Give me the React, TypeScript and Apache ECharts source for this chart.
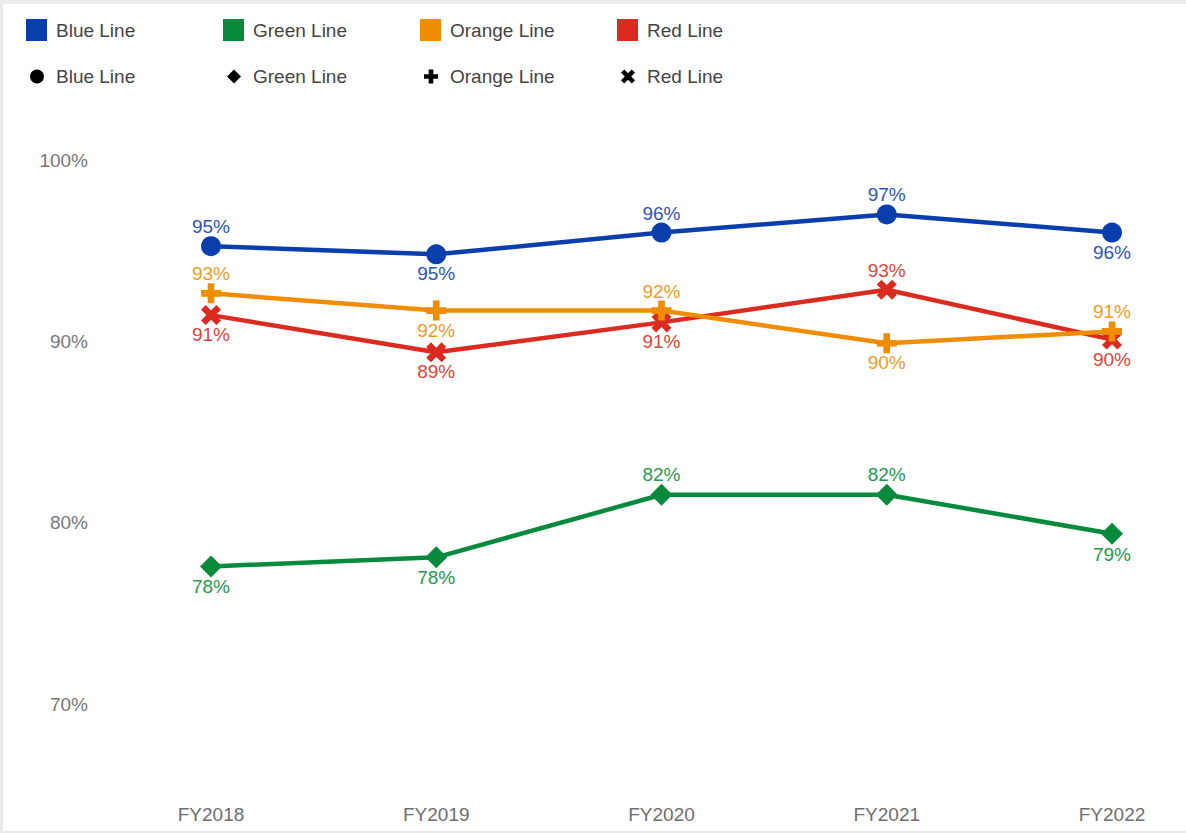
import React, { useEffect, useRef } from "react";
import * as echarts from "echarts";

const categories = ["FY2018", "FY2019", "FY2020", "FY2021", "FY2022"];
const seriesNames = ["Blue Line", "Green Line", "Orange Line", "Red Line"];
const blueValues = [95.25, 94.8, 96.0, 97.0, 96.0];
const greenValues = [77.6, 78.1, 81.55, 81.55, 79.4];
const orangeValues = [92.65, 91.7, 91.7, 89.9, 90.55];
const redValues = [91.45, 89.4, 91.05, 92.85, 90.1];
const blueLabelPos = ["top", "bottom", "top", "top", "bottom"];
const greenLabelPos = ["bottom", "bottom", "top", "top", "bottom"];
const orangeLabelPos = ["top", "bottom", "top", "bottom", "top"];
const redLabelPos = ["bottom", "bottom", "bottom", "top", "bottom"];

const COLORS = ["#0b3ead", "#088a3c", "#f08c00", "#db2a1f"];
const LABEL_COLORS = ["#2c55b8", "#27984f", "#f29a1e", "#df4339"];
const PLUS = "path://M4,0H8V4H12V8H8V12H4V8H0V4H4Z";
const CROSS = "path://M2.8,0L6,3.2L9.2,0L12,2.8L8.8,6L12,9.2L9.2,12L6,8.8L2.8,12L0,9.2L3.2,6L0,2.8Z";
const SYMBOLS = ["circle", "diamond", PLUS, CROSS];
const SYMBOL_SIZES = [20, 22, 20, 20];
const FONT = "'Liberation Sans', Arial, sans-serif";

export default function App() {
  const ref = useRef<HTMLDivElement>(null);
  useEffect(() => {
    if (!ref.current) return;
    const chart = echarts.init(ref.current, undefined, { renderer: "svg" });
    const valueSets = [blueValues, greenValues, orangeValues, redValues];
    const posSets = [blueLabelPos, greenLabelPos, orangeLabelPos, redLabelPos];
    const makeSeries = (i: number) => ({
      name: seriesNames[i],
      type: "line",
      symbol: SYMBOLS[i],
      symbolSize: SYMBOL_SIZES[i],
      showAllSymbol: true,
      color: COLORS[i],
      lineStyle: { color: COLORS[i], width: 4.5 },
      itemStyle: { color: COLORS[i] },
      z: i === 2 ? 5 : 3,
      data: valueSets[i].map((v, j) => ({
        value: v,
        label: { position: posSets[i][j] },
      })),
      label: {
        show: true,
        distance: 0,
        color: LABEL_COLORS[i],
        fontSize: 19,
        fontFamily: FONT,
        formatter: (p: any) => Math.round(p.value) + "%",
      },
    });
    const legends: any[] = [];
    seriesNames.forEach((n, i) => {
      legends.push({
        left: 26 + 197 * i,
        top: 19,
        padding: 0,
        itemWidth: 21,
        itemHeight: 22,
        selectedMode: false,
        data: [{ name: n, icon: "rect" }],
        textStyle: { fontSize: 19, color: "#444", fontFamily: FONT, padding: [0, 0, 0, 4] },
      });
      legends.push({
        left: 30 + 197 * i,
        top: 67,
        padding: 0,
        itemWidth: 14,
        itemHeight: 14,
        selectedMode: false,
        data: [
          {
            name: n,
            icon: SYMBOLS[i],
            itemStyle: { color: "#000", borderWidth: 0 },
          },
        ],
        textStyle: { fontSize: 19, color: "#444", fontFamily: FONT, padding: [0, 0, 0, 7] },
      });
    });
    chart.setOption({
      animation: false,
      backgroundColor: "#fff",
      legend: legends,
      grid: { left: 211, right: 74, top: 160, bottom: 38, containLabel: false },
      xAxis: {
        type: "category",
        data: categories,
        boundaryGap: false,
        axisLine: { show: false },
        axisTick: { show: false },
        splitLine: { show: false },
        axisLabel: { color: "#6e6e6e", fontSize: 19, fontFamily: FONT, margin: 10 },
      },
      yAxis: {
        type: "value",
        min: 65,
        max: 100,
        interval: 5,
        axisLine: { show: false },
        axisTick: { show: false },
        splitLine: { show: false },
        axisLabel: {
          color: "#777",
          fontSize: 19,
          fontFamily: FONT,
          margin: 123,
          formatter: (v: number) => (v % 10 === 0 ? v + "%" : ""),
        },
      },
      graphic: [
        { type: "rect", shape: { x: 0, y: 0, width: 1186, height: 4 }, style: { fill: "#ebebeb" }, z: 100 },
        { type: "rect", shape: { x: 0, y: 0, width: 3, height: 833 }, style: { fill: "#ebebeb" }, z: 100 },
        { type: "rect", shape: { x: 0, y: 831, width: 1186, height: 2 }, style: { fill: "#ebebeb" }, z: 100 },
      ],
      series: [makeSeries(0), makeSeries(1), makeSeries(3), makeSeries(2)],
    });
    return () => chart.dispose();
  }, []);
  return (
    <div
      ref={ref}
      style={{ position: "fixed", left: 0, top: 0, width: 1186, height: 833 }}
    />
  );
}
